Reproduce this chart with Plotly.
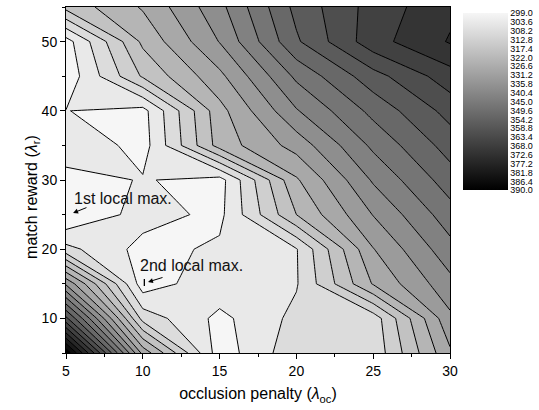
import plotly.graph_objects as go

# grid nodes
x_vals = [5, 10, 15, 20, 25, 30]          # occlusion penalty
y_vals = [5, 10, 15, 20, 25, 30, 35, 40, 45, 50, 55]   # match reward

# values per row (y), columns follow x_vals
row_y05 = [390.0, 329.7, 300.9, 311.4, 309.5, 330.4]
row_y10 = [360.0, 311.0, 302.3, 309.5, 310.2, 334.8]
row_y15 = [335.0, 301.0, 306.9, 307.8, 327.0, 339.0]
row_y20 = [309.7, 302.0, 304.4, 307.9, 331.0, 343.4]
row_y25 = [299.0, 305.5, 302.4, 322.0, 336.0, 347.6]
row_y30 = [301.0, 304.0, 301.7, 326.0, 341.0, 352.0]
row_y35 = [308.0, 301.5, 324.0, 333.0, 346.0, 356.2]
row_y40 = [303.7, 302.0, 325.0, 340.0, 351.0, 360.5]
row_y45 = [300.5, 318.0, 330.0, 346.0, 357.0, 366.0]
row_y50 = [301.6, 323.0, 336.0, 353.5, 366.2, 373.0]
row_y55 = [318.9, 327.1, 339.0, 355.6, 365.3, 371.5]
z_rows = [row_y05, row_y10, row_y15, row_y20, row_y25, row_y30,
          row_y35, row_y40, row_y45, row_y50, row_y55]

# colour bar labels (evenly spaced on the bar)
cbar_labels = ["299.0", "303.6", "308.2", "312.8", "317.4", "322.0", "326.6",
               "331.2", "335.8", "340.4", "345.0", "349.6", "354.2", "358.8",
               "363.4", "368.0", "372.6", "377.2", "381.8", "386.4", "390.0"]
z_min, z_max, level_step = 299.0, 390.0, 4.6

ann1_text = "1st local max."
ann2_text = "2nd local max."
x_title = "occlusion penalty (<i>λ</i><sub>oc</sub>)"
y_title = "match reward (<i>λ</i><sub>r</sub>)"

FONT = "Liberation Sans, Arial, sans-serif"

fig = go.Figure()

fig.add_trace(go.Contour(
    x=x_vals, y=y_vals, z=z_rows,
    zmin=z_min, zmax=z_max,
    colorscale=[[0, "rgb(246,246,246)"], [1, "rgb(0,0,0)"]],
    contours=dict(start=z_min + level_step, end=z_min + 19 * level_step, size=level_step,
                  coloring="fill", showlines=True),
    line=dict(color="black", width=1, smoothing=0),
    showscale=False, hoverinfo="skip",
))

# colour bar only (dummy heatmap outside the visible x/y range); low values on top
n_lab = len(cbar_labels)
fig.add_trace(go.Heatmap(
    z=[[-(n_lab - 1), 0]], x=[100, 101], y=[100],
    zmin=-(n_lab - 1), zmax=0,
    colorscale=[[0, "rgb(0,0,0)"], [1, "rgb(246,246,246)"]],
    showscale=True, hoverinfo="skip",
    colorbar=dict(
        x=1.034, xanchor="left", xpad=0, ypad=0,
        y=0.7263, yanchor="middle",
        len=177, lenmode="pixels", thickness=45, thicknessmode="pixels",
        outlinewidth=0, ticks="", ticklen=0,
        tickvals=[-i for i in range(n_lab)], ticktext=cbar_labels,
        tickfont=dict(family=FONT, size=9, color="black"),
    ),
))

# small marker next to the 2nd local max arrow
fig.add_trace(go.Scatter(
    x=[10.1], y=[15.2], mode="markers",
    marker=dict(symbol="line-ns-open", size=5, color="black",
                line=dict(width=1.3, color="black")),
    hoverinfo="skip", showlegend=False,
))

ann_font = dict(family=FONT, size=16, color="#111111")
fig.add_annotation(x=5.4, y=27.3, text=ann1_text, showarrow=False,
                   xanchor="left", yanchor="middle", font=ann_font)
fig.add_annotation(x=5.46, y=25.23, ax=6.43, ay=26.1, axref="x", ayref="y",
                   text="", showarrow=True, arrowhead=2, arrowsize=1,
                   arrowwidth=1, arrowcolor="black")
fig.add_annotation(x=9.7, y=17.6, text=ann2_text, showarrow=False,
                   xanchor="left", yanchor="middle", font=ann_font)
fig.add_annotation(x=10.34, y=15.26, ax=11.38, ay=15.98, axref="x", ayref="y",
                   text="", showarrow=True, arrowhead=2, arrowsize=1,
                   arrowwidth=1, arrowcolor="black")

# y-axis title (placed slightly below the plot centre, as in the reference)
fig.add_annotation(x=-0.086, y=0.451, xref="paper", yref="paper",
                   text=y_title, textangle=-90, showarrow=False,
                   xanchor="center", yanchor="middle",
                   font=dict(family=FONT, size=16, color="black"))

fig.update_layout(
    width=539, height=410,
    margin=dict(l=66, r=89, t=7, b=57),
    paper_bgcolor="white", plot_bgcolor="white",
    showlegend=False,
    font=dict(family=FONT, size=14, color="black"),
    xaxis=dict(
        range=[5, 30], tickvals=[5, 10, 15, 20, 25, 30],
        ticks="outside", ticklen=5, tickwidth=1, tickcolor="black",
        minor=dict(dtick=2.5, tick0=5, ticks="outside", ticklen=3, tickcolor="black"),
        showline=True, linecolor="black", linewidth=1, mirror=True,
        showgrid=False, zeroline=False, automargin=False,
        tickfont=dict(family=FONT, size=14),
        title=dict(text=x_title, font=dict(family=FONT, size=16), standoff=10),
    ),
    yaxis=dict(
        range=[5, 55], tickvals=[10, 20, 30, 40, 50],
        ticks="outside", ticklen=5, tickwidth=1, tickcolor="black",
        minor=dict(dtick=5, tick0=5, ticks="outside", ticklen=3, tickcolor="black"),
        showline=True, linecolor="black", linewidth=1, mirror=True,
        showgrid=False, zeroline=False, automargin=False,
        tickfont=dict(family=FONT, size=14),
    ),
)

fig.write_html("out.html",
               config={"displayModeBar": False},
               post_script="document.body.style.margin='0px';document.body.style.padding='0px';")
